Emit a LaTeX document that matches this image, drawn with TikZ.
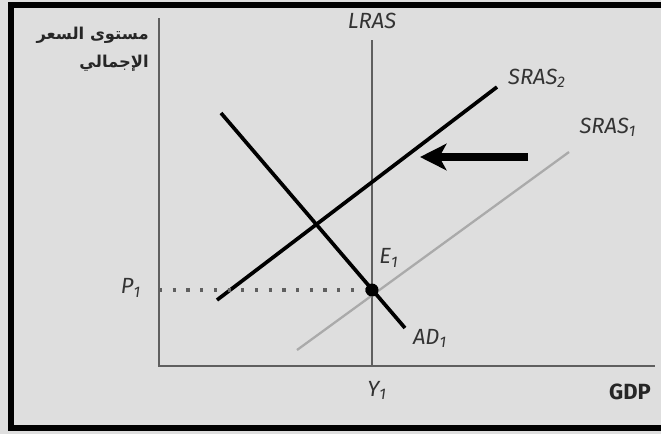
\documentclass[tikz,border=0pt]{standalone}
\usepackage{fontspec}
\setmainfont{Fira Sans}
\newfontfamily\arabicfont[Script=Arabic]{DejaVu Sans}
\TeXXeTstate=1
\usetikzlibrary{arrows.meta}
\definecolor{bg}{RGB}{222,222,222}
\definecolor{axisgray}{RGB}{95,95,95}
\definecolor{lightline}{RGB}{170,170,170}

\begin{document}
\begin{tikzpicture}[x=0.02cm, y=-0.02cm,
    ax/.style={axisgray, line width=1.3pt},
    crv/.style={black, line width=2.1pt},
    lab/.style={font=\itshape\fontsize{12.5}{13}\selectfont, text=black!80, inner sep=1pt},
]
\fill[bg] (0,0) rectangle (661,434);
\useasboundingbox (0,0) rectangle (661,434);
\draw[line width=3.6pt] (11,5) rectangle (720,428);

% axes
\coordinate (ytop) at (159,18);
\coordinate (o) at (159,366);
\coordinate (xend) at (655,366);
\draw[ax] (ytop) -- (o) -- (xend);
\node[font=\bfseries\fontsize{12.5}{13}\selectfont, text=black!85] (gdp) at (630,392) {GDP};
\node[font=\arabicfont\bfseries\fontsize{9.3}{16}\selectfont, text=black!85, align=right, anchor=north east, inner sep=0pt] (plevel) at (149,27)
    {\beginR مستوى السعر\endR\\\beginR الإجمالي\endR};

% curves
\coordinate (lt) at (372,40);
\coordinate (lb) at (372,366);
\coordinate (s2a) at (217,300);
\coordinate (s2b) at (497,87);
\coordinate (s1a) at (297,350);
\coordinate (s1b) at (569,152);
\coordinate (ada) at (221,113);
\coordinate (adb) at (405,328);
\draw[ax] (lt) -- (lb);
\draw[lightline, line width=1.3pt] (s1a) -- (s1b);
\draw[crv] (s2a) -- (s2b);
\draw[crv] (ada) -- (adb);

\node[lab] (lras) at (372,21) {LRAS};
\node[lab] (sras2) at (537,78) {SRAS\textsubscript{2}};
\node[lab] (sras1) at (608,127) {SRAS\textsubscript{1}};
\node[lab] (ad1) at (430,338) {AD\textsubscript{1}};

% equilibrium
\node[circle, fill=black, inner sep=0pt, minimum size=0.26cm] (e) at (372,290) {};
\node[lab] (e1) at (389,258) {E\textsubscript{1}};
\node[lab] (p1) at (131,288) {P\textsubscript{1}};
\node[lab] (y1) at (377,390) {Y\textsubscript{1}};
\draw[axisgray, line width=1.8pt, dash pattern=on 1.8pt off 6pt] (o |- e) -- (e);

% shift
\coordinate (ar1) at (528,157);
\coordinate (ar2) at (420,157);
\draw[line width=5pt, -{Stealth[length=15pt, width=15pt, inset=4pt]}] (ar1) -- (ar2);
\end{tikzpicture}
\end{document}
